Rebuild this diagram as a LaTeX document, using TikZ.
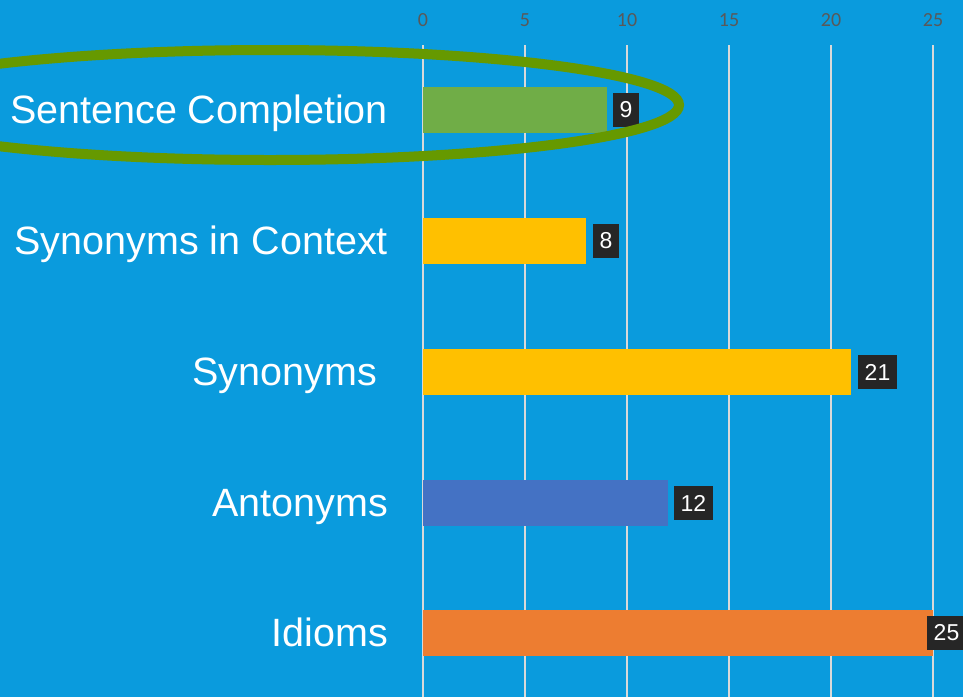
\documentclass[tikz,border=0pt]{standalone}
\usepackage{fontspec}
\setmainfont{Liberation Sans}
\newfontfamily\axisfont{Carlito}

\definecolor{bgblue}{HTML}{0A9BDD}
\definecolor{bargreen}{HTML}{70AD47}
\definecolor{baryellow}{HTML}{FFC000}
\definecolor{barblue}{HTML}{4472C4}
\definecolor{barorange}{HTML}{ED7D31}
\definecolor{ringgreen}{HTML}{669900}
\definecolor{valbox}{HTML}{262626}
\definecolor{gridgrey}{HTML}{D9D9D9}
\definecolor{ticktext}{HTML}{595959}

\tikzset{
  catlabel/.style={anchor=base east, text=white, inner sep=0pt,
                   font=\fontsize{39.5}{42}\selectfont},
  vallabel/.style={anchor=west, fill=valbox, text=white, inner xsep=6.5pt,
                   minimum height=34pt, font=\fontsize{23}{25}\selectfont},
  ticklabel/.style={text=ticktext, inner sep=0pt,
                    font=\axisfont\fontsize{20}{22}\selectfont},
  gridline/.style={gridgrey, line width=1.4pt}
}

\begin{document}
\begin{tikzpicture}[x=1pt, y=-1pt]
                \useasboundingbox (0, 0) rectangle (963, 697);
                \clip (0, 0) rectangle (963, 697);
                \fill [bgblue] (0, 0) rectangle (963, 697);
                % value axis
                \node [ticklabel] (t0) at (423, 20) {0};
                \node [ticklabel] (t5) at (525, 20) {5};
                \node [ticklabel] (t10) at (627, 20) {10};
                \node [ticklabel] (t15) at (729, 20) {15};
                \node [ticklabel] (t20) at (831, 20) {20};
                \node [ticklabel] (t25) at (933, 20) {25};
                \draw [gridline] (423, 45) -- (423, 697);
                \draw [gridline] (525, 45) -- (525, 697);
                \draw [gridline] (627, 45) -- (627, 697);
                \draw [gridline] (729, 45) -- (729, 697);
                \draw [gridline] (831, 45) -- (831, 697);
                \draw [gridline] (933, 45) -- (933, 697);
                % bars
                \fill [bargreen] (423, 87) rectangle (606.6, 133);
                \fill [baryellow] (423, 218) rectangle (586.2, 264);
                \fill [baryellow] (423, 349) rectangle (851.4, 395);
                \fill [barblue] (423, 480) rectangle (667.8, 526);
                \fill [barorange] (423, 610) rectangle (933, 656);
                % values
                \node [vallabel] (v9) at (613, 110) {9};
                \node [vallabel] (v8) at (593, 241) {8};
                \node [vallabel] (v21) at (858, 372) {21};
                \node [vallabel] (v12) at (674, 503) {12};
                \node [vallabel] (v25) at (927, 633) {25};
                % categories
                \node [catlabel] (sentcomp) at (388, 123) {Sentence Completion};
                \node [catlabel] (syncontext) at (388, 254) {Synonyms in Context};
                \node [catlabel] (synonyms) at (377, 385) {Synonyms};
                \node [catlabel] (antonyms) at (388, 516) {Antonyms};
                \node [catlabel] (idioms) at (388, 646) {Idioms};
                % highlight ring
                \draw [ringgreen, line width=10pt] (270, 105) ellipse [x radius=409, y radius=55];
\end{tikzpicture}
\end{document}
